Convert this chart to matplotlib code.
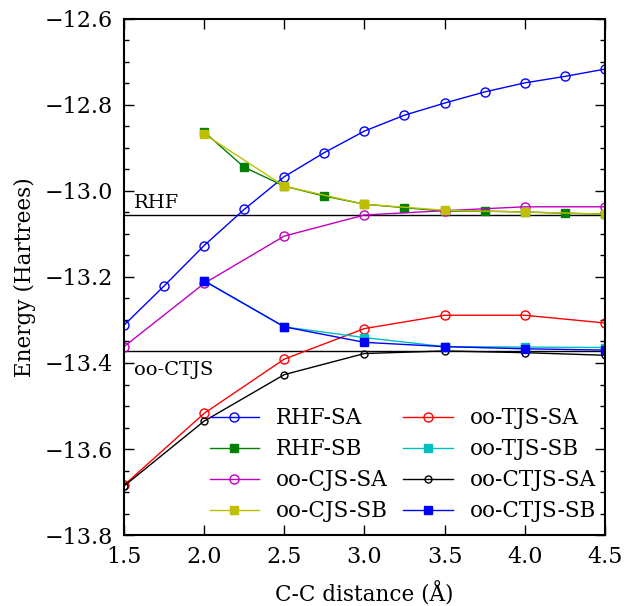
import matplotlib as mpl
mpl.use('agg')
import matplotlib.pyplot as plt
from matplotlib.ticker import MultipleLocator

plt.rcParams['font.family'] = 'DejaVu Serif'
plt.rcParams['mathtext.fontset'] = 'dejavuserif'
plt.rcParams['font.size'] = 15

# C-C distances
r_fine = [1.5, 1.75, 2.0, 2.25, 2.5, 2.75, 3.0, 3.25, 3.5, 3.75, 4.0, 4.25, 4.5]
r_sb_fine = [2.0, 2.25, 2.5, 2.75, 3.0, 3.25, 3.5, 3.75, 4.0, 4.25, 4.5]
r_coarse = [1.5, 2.0, 2.5, 3.0, 3.5, 4.0, 4.5]
r_sb = [2.0, 2.5, 3.0, 3.5, 4.0, 4.5]

rhf_sa = [-13.312, -13.221, -13.127, -13.043, -12.967, -12.911, -12.861,
          -12.824, -12.796, -12.770, -12.749, -12.734, -12.717]
rhf_sb = [-12.863, -12.945, -12.989, -13.012, -13.031, -13.039, -13.047,
          -13.047, -13.049, -13.052, -13.054]
cjs_sa = [-13.362, -13.215, -13.105, -13.056, -13.046, -13.037, -13.037]
cjs_sb = [-12.868, -12.989, -13.031, -13.045, -13.049, -13.054]
tjs_sa = [-13.684, -13.517, -13.391, -13.320, -13.289, -13.289, -13.307]
tjs_sb = [-13.209, -13.316, -13.341, -13.362, -13.363, -13.364]
ctjs_sa = [-13.686, -13.535, -13.427, -13.378, -13.372, -13.376, -13.382]
ctjs_sb = [-13.209, -13.316, -13.352, -13.362, -13.367, -13.370]

e_rhf = -13.056
e_ctjs = -13.373

fig = plt.figure(figsize=(6.36, 6.06), dpi=100)
ax = fig.add_axes([0.195, 0.117, 0.756, 0.852])

ax.axhline(e_rhf, color='k', lw=1.0)
ax.axhline(e_ctjs, color='k', lw=1.0)

ax.plot(r_fine, rhf_sa, 'bo-', mfc='none', mec='b', ms=6.5, lw=1.0, label='RHF-SA')
ax.plot(r_sb_fine, rhf_sb, 'gs-', mec='g', ms=6, lw=1.0, label='RHF-SB')
ax.plot(r_coarse, cjs_sa, 'mo-', mfc='none', mec='m', ms=6.5, lw=1.0, label='oo-CJS-SA')
ax.plot(r_sb, cjs_sb, 'ys-', mec='y', ms=6, lw=1.0, label='oo-CJS-SB')
ax.plot(r_coarse, tjs_sa, 'ro-', mfc='none', mec='r', ms=6.5, lw=1.0, label='oo-TJS-SA')
ax.plot(r_sb, tjs_sb, 'cs-', mec='c', ms=6, lw=1.0, label='oo-TJS-SB')
ax.plot(r_coarse, ctjs_sa, 'ko-', mfc='none', mec='k', ms=5, lw=1.0, label='oo-CTJS-SA')
ax.plot(r_sb, ctjs_sb, 'bs-', mec='b', ms=6, lw=1.0, label='oo-CTJS-SB')

ax.text(1.562, -13.040, 'RHF', fontsize=14)
ax.text(1.562, -13.428, 'oo-CTJS', fontsize=14)

ax.set_xlim(1.5, 4.5)
ax.set_ylim(-13.8, -12.6)
ax.xaxis.set_major_locator(MultipleLocator(0.5))
ax.yaxis.set_major_locator(MultipleLocator(0.2))
ax.yaxis.set_minor_locator(MultipleLocator(0.05))
ax.tick_params(which='both', direction='in', top=True, right=True, labelsize=16)
ax.tick_params(which='major', length=7, width=1, pad=8)
ax.tick_params(which='minor', length=3.5, width=1)
for s in ax.spines.values():
    s.set_linewidth(1.5)

ax.set_xlabel('C-C distance (Å)', fontsize=15.5, labelpad=10)
ax.set_ylabel('Energy (Hartrees)', fontsize=15.5, labelpad=6)

ax.legend(ncol=2, frameon=False, numpoints=1, fontsize=15.5, loc='lower right',
          bbox_to_anchor=(1.0, 0.008), borderaxespad=0.0, handlelength=2.3,
          handletextpad=0.8, columnspacing=0.7, labelspacing=0.42)

plt.savefig('out.png', dpi=100)
